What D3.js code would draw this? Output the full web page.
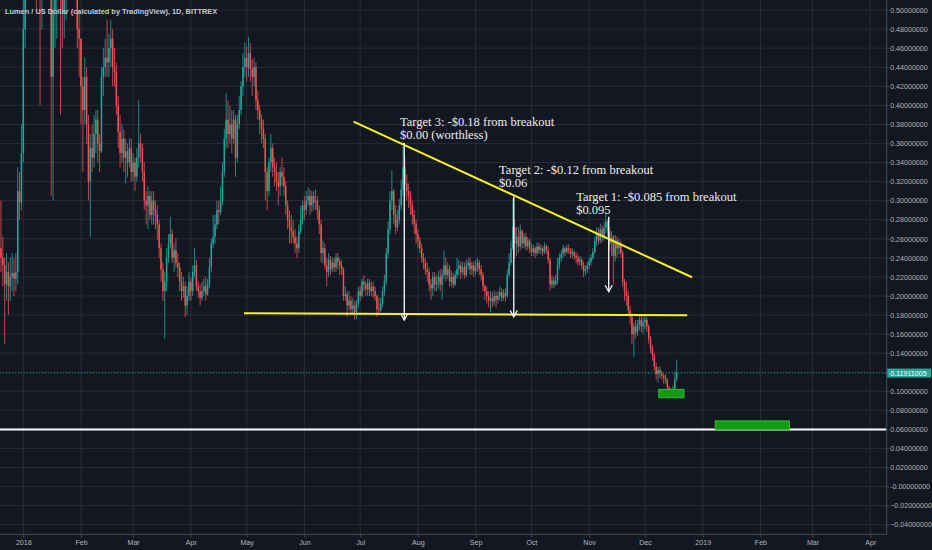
<!DOCTYPE html>
<html><head><meta charset="utf-8">
<script src="https://cdn.jsdelivr.net/npm/d3@7"></script>
<style>html,body{margin:0;padding:0;background:#131722;overflow:hidden}</style>
</head><body><svg id="c" width="932" height="550"></svg>
<script>
// ---------- DATA ----------
const startDate = "2017-12-19";   // first daily candle (BITTREX XLM/USD, 1D)
const firstOpen = 0.235;
// daily closes (open of each day = previous close)
const closes = [
 .250,.240,.232,.212,.225,.210,.220,.224,.218,.225,.310,.298,.350,
 .480,.560,.720,.800,.660,.680,.640,.580,.560,.540,.560,.640,.650,.600,.580,.430,.500,.520,.540,.600,.520,.500,.510,.550,.590,.570,.600,.630,.580,.480,.470,
 .420,.395,.430,.380,.320,.355,.345,.370,.385,.360,.352,.430,.440,.450,.445,.460,.470,.440,.435,.400,.372,.350,.365,.345,.352,.340,.355,.330,
 .340,.325,.345,.360,.355,.330,.300,.295,.305,.285,.300,.290,.285,.275,.250,.228,.205,.215,.240,.255,.265,.240,.248,.235,.230,.215,.205,.210,.190,.200,.215,
 .205,.225,.232,.210,.205,.198,.205,.210,.202,.212,.230,.255,.262,.275,.290,.288,.300,.330,.365,.385,.370,.380,.365,.385,.345,.380,.395,.420,.440,.450,
 .440,.455,.438,.430,.440,.405,.395,.385,.375,.365,.330,.310,.340,.355,.335,.330,.320,.315,.330,.325,.315,.295,.280,.272,.268,.262,.255,.250,.268,.280,.295,
 .290,.300,.305,.295,.305,.298,.300,.290,.275,.245,.250,.232,.225,.238,.228,.235,.230,.240,.236,.232,.228,.200,.202,.190,.195,.186,.190,.183,.192,.205,
 .200,.215,.212,.207,.214,.205,.210,.205,.200,.186,.185,.192,.205,.215,.245,.270,.300,.310,.285,.272,.280,.295,.312,.335,.318,.310,.305,.295,.285,.275,.265,
 .258,.250,.240,.235,.228,.225,.212,.208,.220,.212,.215,.220,.212,.222,.232,.222,.228,.215,.220,.212,.222,.228,.232,.225,.230,.222,.232,.235,.228,.232,.226,
 .230,.235,.228,.222,.210,.205,.200,.195,.198,.194,.200,.196,.200,.204,.198,.203,.200,.222,.235,.250,.272,.255,.262,.252,.268,.255,.262,.252,.258,.250,
 .246,.250,.245,.252,.248,.250,.246,.252,.248,.238,.212,.216,.212,.216,.232,.240,.244,.250,.246,.250,.248,.244,.246,.242,.240,.236,.238,.232,.226,.228,.232,
 .236,.240,.246,.258,.266,.258,.270,.262,.272,.278,.268,.255,.262,.242,.258,.250,.255,.245,.215,.205,.200,.185,.178,.160,.168,.162,.170,.175,.168,.172,
 .175,.168,.155,.145,.138,.126,.118,.122,.119,.116,.114,.112,.104,.099,.100,.101,.113,.11911005
];
const highs = [
 .262,.300,.262,.240,.245,.235,.240,.245,.240,.245,.335,.330,.380,
 .520,.600,.800,.930,.820,.740,.720,.660,.620,.580,.600,.680,.700,.670,.640,.590,.540,.580,.580,.630,.600,.560,.540,.580,.620,.620,.640,.680,.640,.590,.500,
 .470,.430,.450,.440,.390,.370,.380,.390,.395,.395,.370,.440,.460,.470,.490,.475,.490,.480,.460,.445,.410,.390,.380,.375,.365,.360,.365,.365,
 .350,.345,.355,.405,.370,.360,.340,.310,.315,.310,.310,.310,.300,.295,.280,.255,.235,.225,.250,.265,.283,.270,.255,.260,.245,.235,.225,.220,.215,.210,.225,
 .220,.232,.250,.238,.215,.212,.215,.218,.220,.218,.240,.260,.285,.285,.300,.300,.315,.340,.375,.413,.405,.400,.395,.395,.390,.390,.410,.425,.455,.466,
 .462,.472,.465,.448,.450,.445,.415,.400,.390,.385,.370,.335,.345,.370,.360,.345,.340,.330,.335,.345,.335,.320,.300,.290,.285,.280,.270,.262,.275,.295,.300,
 .305,.310,.314,.312,.310,.310,.312,.305,.295,.280,.258,.255,.240,.245,.242,.240,.240,.245,.245,.240,.238,.230,.210,.205,.205,.200,.198,.195,.196,.210,
 .210,.218,.222,.215,.218,.218,.215,.215,.210,.202,.198,.198,.210,.222,.250,.278,.310,.332,.312,.295,.290,.302,.322,.362,.345,.328,.318,.310,.300,.290,.280,
 .270,.262,.255,.245,.240,.235,.230,.218,.225,.225,.222,.226,.228,.228,.248,.240,.235,.232,.226,.224,.226,.240,.238,.236,.236,.235,.238,.240,.240,.236,.236,
 .238,.240,.238,.232,.225,.212,.210,.205,.205,.204,.206,.204,.205,.210,.208,.207,.208,.228,.245,.258,.302,.280,.272,.272,.275,.270,.266,.266,.262,.260,
 .255,.254,.252,.256,.256,.254,.252,.256,.254,.252,.240,.222,.220,.222,.240,.245,.248,.254,.252,.254,.254,.250,.250,.248,.246,.244,.242,.240,.236,.232,.236,
 .240,.244,.250,.262,.272,.272,.276,.274,.278,.288,.280,.272,.268,.264,.264,.262,.260,.258,.248,.218,.215,.205,.190,.182,.172,.175,.175,.180,.180,.178,
 .180,.178,.170,.158,.148,.140,.130,.126,.126,.122,.118,.118,.114,.106,.103,.106,.120,.133
];
const lows = [
 .228,.225,.210,.150,.195,.180,.195,.205,.200,.205,.212,.280,.290,
 .340,.460,.540,.680,.600,.620,.600,.500,.520,.400,.480,.540,.600,.570,.540,.305,.300,.460,.470,.520,.390,.460,.470,.490,.540,.520,.550,.580,.560,.460,.430,
 .380,.330,.380,.360,.300,.262,.330,.335,.350,.340,.330,.350,.410,.430,.430,.430,.440,.420,.420,.390,.355,.335,.340,.330,.318,.325,.335,.320,
 .320,.310,.320,.335,.340,.320,.290,.275,.270,.280,.275,.275,.270,.259,.240,.215,.195,.155,.205,.235,.250,.235,.225,.230,.220,.205,.195,.198,.178,.180,.195,
 .195,.200,.220,.205,.198,.190,.195,.200,.195,.200,.208,.225,.250,.255,.270,.275,.285,.295,.325,.355,.355,.360,.350,.360,.325,.340,.375,.390,.410,.430,
 .425,.430,.425,.410,.420,.395,.385,.370,.360,.355,.300,.290,.305,.330,.325,.315,.310,.295,.305,.315,.305,.285,.270,.255,.255,.255,.245,.240,.245,.265,.275,
 .280,.285,.295,.285,.288,.290,.290,.280,.265,.235,.235,.228,.210,.220,.222,.225,.225,.225,.228,.222,.222,.195,.195,.178,.185,.182,.180,.175,.176,.188,
 .195,.198,.205,.200,.200,.200,.200,.198,.195,.178,.180,.183,.188,.200,.212,.240,.265,.290,.275,.265,.268,.275,.290,.305,.305,.300,.292,.285,.275,.265,.255,
 .250,.245,.235,.228,.222,.215,.205,.196,.200,.205,.205,.208,.205,.196,.218,.215,.218,.210,.210,.208,.210,.218,.222,.218,.222,.218,.220,.228,.222,.222,.220,
 .222,.225,.222,.216,.205,.196,.192,.188,.183,.188,.190,.188,.192,.195,.194,.195,.194,.198,.220,.232,.248,.240,.242,.245,.248,.250,.250,.248,.248,.245,
 .242,.242,.240,.242,.244,.244,.242,.244,.244,.234,.206,.208,.208,.210,.212,.228,.236,.240,.242,.244,.244,.240,.240,.238,.234,.232,.232,.228,.220,.222,.224,
 .228,.232,.238,.244,.252,.254,.255,.256,.258,.266,.262,.248,.242,.212,.236,.240,.244,.240,.210,.195,.190,.180,.170,.150,.136,.155,.158,.164,.162,.160,
 .165,.162,.150,.140,.132,.122,.112,.109,.114,.112,.108,.108,.100,.096,.096,.098,.100,.110
];
const priceTicks = [0.50,0.48,0.46,0.44,0.42,0.40,0.38,0.36,0.34,0.32,0.30,0.28,0.26,0.24,0.22,0.20,0.18,0.16,0.14,0.12,0.10,0.08,0.06,0.04,0.02,0,-0.02,-0.04];
const monthTicks = ["2018-01-01","2018-02-01","2018-03-01","2018-04-01","2018-05-01","2018-06-01","2018-07-01","2018-08-01","2018-09-01","2018-10-01","2018-11-01","2018-12-01","2019-01-01","2019-02-01","2019-03-01","2019-04-01"];
const lastPrice = 0.11911005;
const titleText = "Lumen / US Dollar (calculated by TradingView), 1D, BITTREX";
// drawings (date, price)
const trendLines = [
  {d1:"2018-06-27T10:00Z", p1:0.3828, d2:"2018-12-26T07:00Z", p2:0.2196},
  {d1:"2018-04-29T14:00Z", p1:0.1818, d2:"2018-12-23T16:00Z", p2:0.1797}
];
const supportLevel = 0.06;
const arrows = [
  {d:"2018-07-24T16:00Z", from:0.3605, to:0.1747},
  {d:"2018-09-21T12:00Z", from:0.3041, to:0.1780},
  {d:"2018-11-11T12:00Z", from:0.2831, to:0.2044}
];
const boxes = [
  {d1:"2019-01-07T17:00Z", d2:"2019-02-16T14:00Z", p1:0.0689, p2:0.0598},
  {d1:"2018-12-08T10:00Z", d2:"2018-12-21T22:00Z", p1:0.1020, p2:0.0932}
];
const notes = [
  {d:"2018-07-22T10:00Z", p:0.3778, lines:["Target 3: -$0.18 from breakout","$0.00 (worthless)"]},
  {d:"2018-09-13T15:00Z", p:0.3279, lines:["Target 2: -$0.12 from breakout","$0.06"]},
  {d:"2018-10-25T00:00Z", p:0.2996, lines:["Target 1: -$0.085 from breakout","$0.095"]}
];

// ---------- CHART ----------
const W = 932, H = 550, plotR = 886.7, plotB = 534.3;
const svg = d3.select("#c");
const T = s => new Date(s.length === 10 ? s + "T00:00:00Z" : s);

const x = d3.scaleUtc().domain([T("2018-01-01"), T("2019-01-01")]).range([23.3, 702.7]);
const y = d3.scaleLinear().domain([0.5, -0.04]).range([10, 524.7]);

svg.append("rect").attr("width", W).attr("height", H).attr("fill", "#131722");

// grid
const grid = svg.append("g").attr("stroke", "#282c38").attr("stroke-width", 1);
grid.selectAll(".hg").data(priceTicks).join("line")
  .attr("x1", 0).attr("x2", plotR).attr("y1", d => y(d)).attr("y2", d => y(d));
grid.selectAll(".vg").data(monthTicks).join("line")
  .attr("y1", 0).attr("y2", plotB).attr("x1", d => x(T(d))).attr("x2", d => x(T(d)));

svg.append("clipPath").attr("id", "clip").append("rect")
  .attr("x", 0).attr("y", 0).attr("width", plotR).attr("height", plotB);
const plot = svg.append("g").attr("clip-path", "url(#clip)");

// candles
const start = T(startDate);
const candles = closes.map((c, i) => ({
  t: d3.utcDay.offset(start, i),
  o: i === 0 ? firstOpen : closes[i - 1],
  c, h: highs[i], l: lows[i]
}));
const up = "#26a69a", dn = "#ef5350";
const cg = plot.append("g");
cg.selectAll("line").data(candles).join("line")
  .attr("x1", d => x(d.t)).attr("x2", d => x(d.t))
  .attr("y1", d => y(d.h)).attr("y2", d => y(d.l))
  .attr("stroke", d => d.c >= d.o ? up : dn).attr("stroke-width", 0.8);
cg.selectAll("rect").data(candles).join("rect")
  .attr("x", d => x(d.t) - 0.75).attr("width", 1.5)
  .attr("y", d => y(Math.max(d.o, d.c)))
  .attr("height", d => Math.max(0.8, Math.abs(y(d.o) - y(d.c))))
  .attr("fill", d => d.c >= d.o ? up : dn);

// support line
plot.append("line").attr("x1", 0).attr("x2", plotR)
  .attr("y1", y(supportLevel)).attr("y2", y(supportLevel))
  .attr("stroke", "#ffffff").attr("stroke-width", 2);

// green boxes
plot.selectAll(".box").data(boxes).join("rect")
  .attr("x", d => x(T(d.d1))).attr("width", d => x(T(d.d2)) - x(T(d.d1)))
  .attr("y", d => y(d.p1)).attr("height", d => y(d.p2) - y(d.p1))
  .attr("fill", "#149a14").attr("stroke", "#33c233").attr("stroke-width", 1);

// trend lines
plot.selectAll(".tl").data(trendLines).join("line")
  .attr("x1", d => x(T(d.d1))).attr("y1", d => y(d.p1))
  .attr("x2", d => x(T(d.d2))).attr("y2", d => y(d.p2))
  .attr("stroke", "#f5f523").attr("stroke-width", 2);

// arrows
const ag = plot.selectAll(".ar").data(arrows).join("g").attr("stroke", "#f0f0f0").attr("fill", "none");
ag.append("line").attr("x1", d => x(T(d.d))).attr("x2", d => x(T(d.d)))
  .attr("y1", d => y(d.from)).attr("y2", d => y(d.to)).attr("stroke-width", 1.4);
ag.append("path").attr("stroke-width", 1.3)
  .attr("d", d => { const X = x(T(d.d)), Y = y(d.to); return `M${X-3.6},${Y-6.5}L${X},${Y}L${X+3.6},${Y-6.5}`; });

// notes
const ng = plot.selectAll(".note").data(notes).join("text")
  .attr("x", d => x(T(d.d))).attr("y", d => y(d.p))
  .attr("font-family", "'Liberation Serif','Times New Roman',serif")
  .attr("font-size", 12.5).attr("fill", "#ececec");
ng.selectAll("tspan").data(d => d.lines.map((s, k) => ({s, k, X: x(T(d.d))}))).join("tspan")
  .attr("x", d => d.X).attr("dy", d => d.k === 0 ? 0 : 13).text(d => d.s);

// current price line
plot.append("line").attr("x1", 0).attr("x2", plotR)
  .attr("y1", y(lastPrice)).attr("y2", y(lastPrice))
  .attr("stroke", "#2a9d8f").attr("stroke-width", 1).attr("stroke-dasharray", "1,2");

// title
svg.append("text").attr("x", 5).attr("y", 13.5).text(titleText)
  .attr("font-family", "'Liberation Sans',Arial,sans-serif").attr("font-size", 7.4)
  .attr("font-weight", "bold").attr("fill", "#c4c7cf");

// axes lines
svg.append("line").attr("x1", plotR).attr("x2", plotR).attr("y1", 0).attr("y2", plotB)
  .attr("stroke", "#4a4e5a").attr("stroke-width", 1);
svg.append("line").attr("x1", 0).attr("x2", plotR).attr("y1", plotB).attr("y2", plotB)
  .attr("stroke", "#4a4e5a").attr("stroke-width", 1);

const fmt = v => (Math.abs(v) < 1e-9 ? "-0.00000000" : d3.format(".8f")(v));
const yAxis = svg.append("g").attr("transform", `translate(${plotR},0)`)
  .call(d3.axisRight(y).tickValues(priceTicks).tickFormat(fmt).tickSize(2.5).tickPadding(1));
const xAxis = svg.append("g").attr("transform", `translate(0,${plotB})`)
  .call(d3.axisBottom(x).tickValues(monthTicks.map(T)).tickSize(3).tickPadding(2.5)
    .tickFormat(d => d.getUTCMonth() === 0 ? d3.utcFormat("%Y")(d) : d3.utcFormat("%b")(d)));
[yAxis, xAxis].forEach(a => {
  a.select(".domain").remove();
  a.selectAll(".tick line").attr("stroke", "#4a4e5a");
  a.selectAll(".tick text").attr("fill", "#b2b5be")
    .attr("font-family", "'Liberation Sans',Arial,sans-serif").attr("font-size", 7.1);
});

// last price label
const py = y(lastPrice);
svg.append("rect").attr("x", plotR + 0.5).attr("y", py - 4.5).attr("width", 44).attr("height", 9)
  .attr("fill", "#26a69a");
svg.append("text").attr("x", plotR + 3.5).attr("y", py).attr("dy", "0.35em")
  .attr("font-family", "'Liberation Sans',Arial,sans-serif").attr("font-size", 7.1)
  .attr("fill", "#ffffff").text(d3.format(".8f")(lastPrice));
</script></body></html>
